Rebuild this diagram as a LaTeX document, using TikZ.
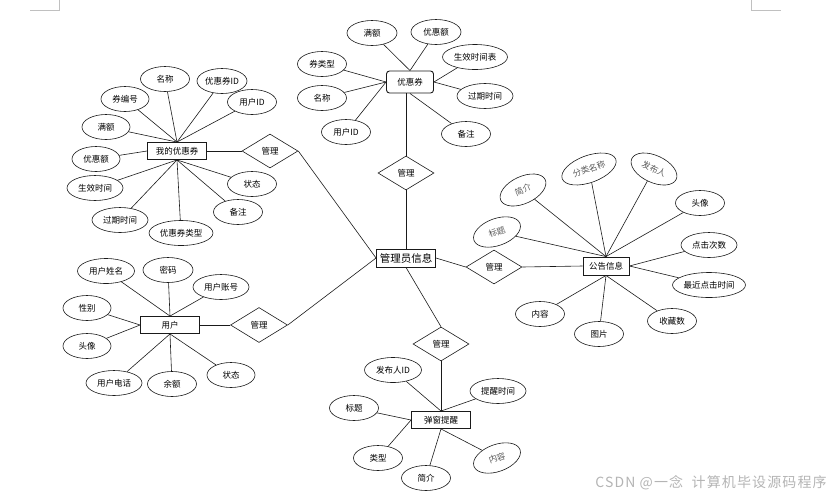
\documentclass[tikz,border=0pt]{standalone}
\usepackage{fontspec}
\setmainfont{Noto Sans CJK SC}
\usetikzlibrary{shapes.geometric}
\definecolor{cline}{HTML}{1A1A1A}
\definecolor{cmark}{HTML}{C0C0C0}
\definecolor{cfaint}{HTML}{5A5A5A}
\definecolor{cwater}{HTML}{B4B4B4}
\tikzset{
  every picture/.style={line width=0.6pt, x=1pt, y=-1pt},
  attr/.style={draw=cline, ellipse, minimum width=#1, minimum height=25pt, inner sep=0pt, font=\fontsize{8.5}{10}\selectfont},
  attr/.default=49pt,
  tilt/.style={attr, rotate=#1, text=cfaint},
  ent/.style={draw=cline, line width=0.9pt, minimum width=59pt, minimum height=17pt, inner sep=1pt, font=\fontsize{8.5}{10}\selectfont},
  rel/.style={draw=cline, diamond, aspect=1.6, minimum width=56pt, minimum height=34pt, inner sep=0pt, font=\fontsize{8.5}{10}\selectfont},
  link/.style={draw=cline, line width=0.6pt},
}

\begin{document}
\begin{tikzpicture}
  \useasboundingbox (0,0) rectangle (836,499);

  % page corner marks
  \draw[cmark] (30,10) -- (59,10) -- (59,0);
  \draw[cmark] (751,0) -- (751,10) -- (781,10);

  % centre
  \node[ent, minimum height=18pt, font=\fontsize{10.5}{12}\selectfont] (admin) at (406,258) {管理员信息};

  % coupon
  \node[ent, rounded corners=3pt, minimum width=47pt, minimum height=22pt] (cp) at (410,82) {优惠券};
  \node[attr=50pt] (cpFull) at (372,33) {满额};
  \node[attr=50pt] (cpDisc) at (436,32) {优惠额};
  \node[attr=65pt] (cpStart) at (475,57) {生效时间表};
  \node[attr=56pt] (cpEnd) at (485,96) {过期时间};
  \node[attr] (cpNote) at (466,134) {备注};
  \node[attr] (cpType) at (322,64) {券类型};
  \node[attr] (cpName) at (322,98) {名称};
  \node[attr] (cpUid) at (346,132) {用户ID};
  \node[rel] (rTop) at (406,173) {管理};
  \foreach \m in {cpFull, cpDisc} \draw[link] (cp.north) -- (\m);
  \foreach \m in {cpStart, cpEnd} \draw[link] (cp.east) -- (\m);
  \foreach \m in {cpType, cpName, cpUid} \draw[link] (cp.west) -- (\m);
  \draw[link] (cp.south) -- (cpNote);
  \draw[link] (rTop.north |- cp.south) -- (rTop.north);
  \draw[link] (rTop.south) -- (admin.north);

  % my coupons
  \node[ent] (my) at (177,151) {我的优惠券};
  \node[attr] (myName) at (165,79) {名称};
  \node[attr=50pt] (myCid) at (222,81) {优惠券ID};
  \node[attr] (myUid) at (252,102) {用户ID};
  \node[attr=48pt] (myNo) at (125,99) {券编号};
  \node[attr=48pt] (myFull) at (106,127) {满额};
  \node[attr=48pt] (myDisc) at (96,159) {优惠额};
  \node[attr=56pt] (myStart) at (95,188) {生效时间};
  \node[attr=56pt] (myEnd) at (120,220) {过期时间};
  \node[attr=64pt] (myType) at (181,233) {优惠券类型};
  \node[attr] (myNote) at (238,212) {备注};
  \node[attr] (myState) at (252,184) {状态};
  \node[rel] (rMy) at (270,151) {管理};
  \foreach \m in {myName, myCid, myUid, myNo, myFull} \draw[link] (my.north) -- (\m);
  \foreach \m in {myStart, myEnd, myType, myNote, myState} \draw[link] (my.south) -- (\m);
  \draw[link] (my.west) -- (myDisc);
  \draw[link] (my.east) -- (rMy.west);
  \draw[link] (rMy.east) -- (admin.west);

  % user
  \node[ent] (user) at (170,325) {用户};
  \node[attr=57pt] (usName) at (106,271) {用户姓名};
  \node[attr=50pt] (usPwd) at (168,270) {密码};
  \node[attr=56pt] (usAcc) at (221,287) {用户账号};
  \node[attr=48pt] (usSex) at (87,308) {性别};
  \node[attr=48pt] (usAvatar) at (87,346) {头像};
  \node[attr=56pt] (usTel) at (114,383) {用户电话};
  \node[attr] (usBal) at (172,384) {余额};
  \node[attr=48pt] (usState) at (231,375) {状态};
  \node[rel, minimum width=57pt, minimum height=35pt] (rUser) at (259,325) {管理};
  \foreach \m in {usName, usPwd, usAcc} \draw[link] (user.north) -- (\m);
  \foreach \m in {usSex, usAvatar} \draw[link] (user.west) -- (\m);
  \foreach \m in {usTel, usBal, usState} \draw[link] (user.south) -- (\m);
  \draw[link] (user.east) -- (rUser.west);
  \draw[link] (rUser.east) -- (admin.west);

  % notices
  \node[ent, minimum width=46pt, minimum height=18pt] (notice) at (606,266) {公告信息};
  \node[tilt=25, minimum height=27pt] (ntBrief) at (523,190) {简介};
  \node[tilt=20, minimum width=57pt, minimum height=27pt] (ntCat) at (589,169) {分类名称};
  \node[tilt=-25, minimum height=27pt] (ntPub) at (654,169) {发布人};
  \node[tilt=20, minimum height=27pt] (ntTitle) at (497,232) {标题};
  \node[attr] (ntAvatar) at (700,203) {头像};
  \node[attr=56pt] (ntClicks) at (709,245) {点击次数};
  \node[attr=73pt] (ntLast) at (709,285) {最近点击时间};
  \node[attr] (ntFav) at (672,321) {收藏数};
  \node[attr] (ntPic) at (599,334) {图片};
  \node[attr] (ntText) at (540,314) {内容};
  \node[rel] (rRight) at (494,267) {管理};
  \foreach \m in {ntBrief, ntCat, ntPub, ntTitle, ntAvatar} \draw[link] (notice.north) -- (\m);
  \foreach \m in {ntClicks, ntLast} \draw[link] (notice.east) -- (\m);
  \foreach \m in {ntFav, ntPic, ntText} \draw[link] (notice.south) -- (\m);
  \draw[link] (admin.east) -- (rRight.west);
  \draw[link] (rRight.east) -- (notice.west);

  % popup reminders
  \node[ent] (pop) at (441,420) {弹窗提醒};
  \node[attr=57pt] (popPub) at (393,370) {发布人ID};
  \node[attr=56pt] (popTime) at (498,391) {提醒时间};
  \node[attr] (popTitle) at (354,408) {标题};
  \node[attr] (popType) at (378,458) {类型};
  \node[attr] (popBrief) at (426,478) {简介};
  \node[tilt=20, minimum height=27pt] (popText) at (497,458) {内容};
  \node[rel] (rPop) at (441,344) {管理};
  \foreach \m in {popPub, popTime} \draw[link] (pop.north) -- (\m);
  \foreach \m in {popTitle, popType} \draw[link] (pop.west) -- (\m);
  \foreach \m in {popBrief, popText} \draw[link] (pop.south) -- (\m);
  \draw[link] (admin.south) -- (rPop.north);
  \draw[link] (rPop.south) -- (pop.north);

  % watermark
  \node[anchor=east, text=cwater, font=\fontsize{14}{16}\selectfont\addfontfeature{LetterSpace=8}, inner sep=0pt] (mark) at (827,483) {CSDN @一念\ \ 计算机毕设源码程序};
\end{tikzpicture}
\end{document}
